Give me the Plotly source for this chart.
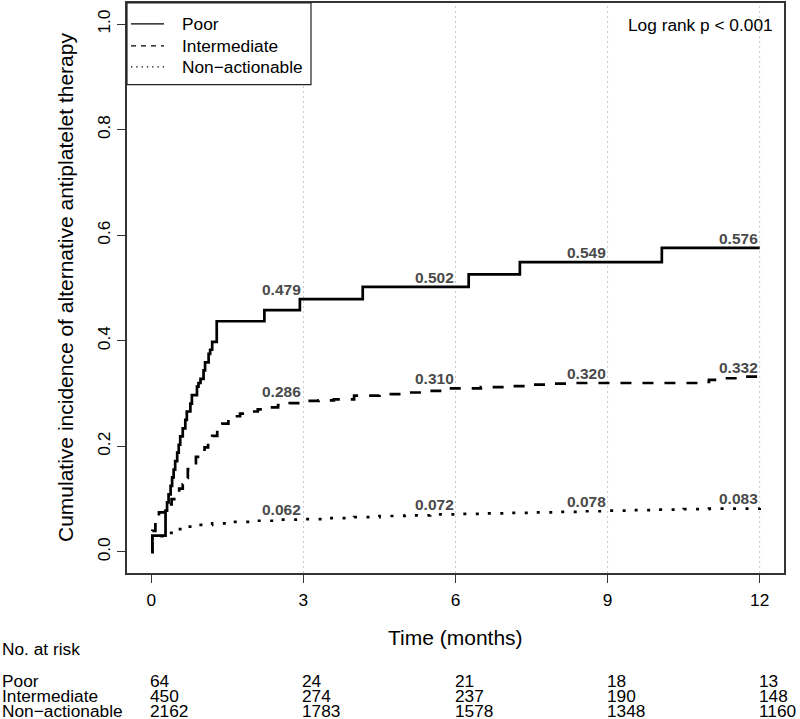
import plotly.graph_objects as go

# ---------------- data ----------------
groups = ["Poor", "Intermediate", "Non\u2212actionable"]

poor_t = [0, 0.02, 0.28, 0.31, 0.34, 0.38, 0.41, 0.44, 0.47, 0.51, 0.54, 0.57, 0.62, 0.67, 0.70,
          0.77, 0.80, 0.90, 0.93, 0.97, 1.03, 1.06, 1.13, 1.16, 1.20, 1.29, 2.23, 2.93, 4.17,
          6.26, 7.27, 10.07, 12.0]
poor_v = [0, 0.031, 0.078, 0.094, 0.109, 0.125, 0.141, 0.156, 0.172, 0.188, 0.203, 0.219, 0.234,
          0.250, 0.266, 0.281, 0.297, 0.313, 0.320, 0.328, 0.344, 0.359, 0.375, 0.383, 0.398,
          0.437, 0.458, 0.479, 0.502, 0.526, 0.549, 0.576, 0.576]

inter_t = [0, 0.02, 0.08, 0.15, 0.27, 0.33, 0.40, 0.48, 0.55, 0.62, 0.68, 0.72, 0.80, 0.88, 0.95,
           1.05, 1.12, 1.20, 1.30, 1.40, 1.52, 1.62, 1.75, 1.90, 2.10, 2.30, 2.50, 2.73, 3.00,
           3.30, 3.60, 4.00, 4.50, 5.00, 5.50, 5.80, 6.50, 7.00, 7.40, 7.90, 8.30, 9.00, 10.00,
           10.80, 11.00, 11.30, 11.60, 12.0]
inter_v = [0, 0.040, 0.058, 0.075, 0.080, 0.090, 0.100, 0.110, 0.120, 0.128, 0.140, 0.157, 0.168,
           0.180, 0.188, 0.198, 0.210, 0.220, 0.235, 0.243, 0.252, 0.257, 0.262, 0.266, 0.270,
           0.274, 0.278, 0.282, 0.286, 0.287, 0.289, 0.296, 0.299, 0.302, 0.305, 0.310, 0.312,
           0.314, 0.317, 0.319, 0.320, 0.320, 0.320, 0.322, 0.326, 0.329, 0.332, 0.332]

nonact_t = [0, 0.02, 0.10, 0.30, 0.50, 0.70, 0.90, 1.20, 1.60, 2.00, 2.50, 3.00, 3.50, 4.00, 4.50,
            5.00, 5.50, 6.00, 6.50, 7.00, 7.50, 8.00, 8.50, 9.00, 9.50, 10.00, 10.50, 11.00,
            11.50, 12.0]
nonact_v = [0, 0.025, 0.030, 0.036, 0.043, 0.048, 0.051, 0.054, 0.057, 0.059, 0.061, 0.062, 0.064,
            0.066, 0.068, 0.069, 0.071, 0.072, 0.073, 0.074, 0.075, 0.076, 0.077, 0.078, 0.079,
            0.080, 0.081, 0.082, 0.082, 0.083]

label_months = [3, 6, 9, 12]
poor_labels = [0.479, 0.502, 0.549, 0.576]
inter_labels = [0.286, 0.310, 0.320, 0.332]
nonact_labels = [0.062, 0.072, 0.078, 0.083]

risk_months = [0, 3, 6, 9, 12]
risk_poor = [64, 24, 21, 18, 13]
risk_inter = [450, 274, 237, 190, 148]
risk_nonact = [2162, 1783, 1578, 1348, 1160]

x_ticks = [0, 3, 6, 9, 12]
y_ticks = [0.0, 0.2, 0.4, 0.6, 0.8, 1.0]
y_ticktext = ["0.0", "0.2", "0.4", "0.6", "0.8", "1.0"]
grid_months = [3, 6, 9, 12]

# ---------------- layout geometry (pixels) ----------------
W, H = 800, 719
ML, MR, MT, MB = 127, 16, 1, 146
PW, PH = W - ML - MR, H - MT - MB
FONT = "Liberation Sans, Arial, Helvetica, sans-serif"


def px_x(xp):
    return (xp - ML) / PW


def px_y(yp):
    return (H - MB - yp) / PH


fig = go.Figure()

styles = [
    dict(color="black", width=2.7, dash="solid"),
    dict(color="black", width=2.7, dash="11px,11px"),
    dict(color="black", width=2.7, dash="3px,9.5px"),
]
series = [(poor_t, poor_v), (inter_t, inter_v), (nonact_t, nonact_v)]
for name, (t, v), st in zip(groups, series, styles):
    fig.add_trace(go.Scatter(x=t, y=v, mode="lines", name=name, line=st,
                             line_shape="hv", hoverinfo="skip", showlegend=False))

# vertical dotted grid lines
for m in grid_months:
    fig.add_shape(type="line", x0=m, x1=m, y0=0, y1=1, xref="x", yref="paper",
                  line=dict(color="#c8c8c8", width=1, dash="2px,3px"), layer="below")

annotations = []

# legend (drawn as box + samples + text, R style)
fig.add_shape(type="rect", xref="paper", yref="paper", x0=0, x1=px_x(311),
              y0=px_y(83), y1=1, line=dict(color="#222222", width=1.2),
              fillcolor="white", layer="above")
legend_y = [22, 44, 65]
legend_dash = ["solid", "5px,5px", "1.3px,4px"]
for name, dsh, yp in zip(groups, legend_dash, legend_y):
    fig.add_shape(type="line", xref="paper", yref="paper", x0=px_x(131), x1=px_x(164),
                  y0=px_y(yp), y1=px_y(yp),
                  line=dict(color="black", width=1.3, dash=dsh), layer="above")
    annotations.append(dict(x=px_x(180), y=px_y(yp), xref="paper", yref="paper",
                            text=name, showarrow=False, xanchor="left", yanchor="middle",
                            font=dict(family=FONT, size=17.3, color="black")))

# value labels
for labs in (poor_labels, inter_labels, nonact_labels):
    for m, val in zip(label_months, labs):
        annotations.append(dict(x=m, y=val, xref="x", yref="y", text=f"{val:.3f}",
                                showarrow=False, xanchor="right", yanchor="bottom",
                                yshift=-1,
                                font=dict(family=FONT, size=15.5, color="#4a4a4a",
                                          weight="bold")))

annotations.append(dict(x=px_x(775), y=px_y(23), xref="paper", yref="paper",
                        text="Log rank p < 0.001", showarrow=False, xanchor="right",
                        yanchor="middle", font=dict(family=FONT, size=17.3, color="black")))

# axis titles
annotations.append(dict(x=px_x(65), y=px_y(287), xref="paper", yref="paper",
                        text="Cumulative incidence of alternative antiplatelet therapy",
                        textangle=-90, showarrow=False, xanchor="center", yanchor="middle",
                        font=dict(family=FONT, size=21, color="black")))
annotations.append(dict(x=px_x(455), y=px_y(638), xref="paper", yref="paper",
                        text="Time (months)", showarrow=False, xanchor="center",
                        yanchor="middle", font=dict(family=FONT, size=21, color="black")))

# risk table
annotations.append(dict(x=px_x(0), y=px_y(649), xref="paper", yref="paper",
                        text="No. at risk", showarrow=False, xanchor="left",
                        yanchor="middle", font=dict(family=FONT, size=17.3, color="black")))
row_y = [681, 696.5, 711.5]
for name, counts, yp in zip(groups, [risk_poor, risk_inter, risk_nonact], row_y):
    annotations.append(dict(x=px_x(0), y=px_y(yp), xref="paper", yref="paper",
                            text=name, showarrow=False, xanchor="left", yanchor="middle",
                            font=dict(family=FONT, size=17.3, color="black")))
    for m, c in zip(risk_months, counts):
        annotations.append(dict(x=m, y=px_y(yp), xref="x", yref="paper", text=str(c),
                                showarrow=False, xanchor="left", yanchor="middle",
                                xshift=-3,
                                font=dict(family=FONT, size=17.3, color="black")))

fig.update_layout(
    width=W, height=H,
    margin=dict(l=ML, r=MR, t=MT, b=MB),
    paper_bgcolor="white", plot_bgcolor="white",
    font=dict(family=FONT, size=17.3, color="black"),
    showlegend=False,
    hovermode=False,
    annotations=annotations,
    xaxis=dict(range=[-0.48, 12.48], tickvals=x_ticks, ticktext=[str(v) for v in x_ticks],
               showgrid=False, zeroline=False, showline=True, mirror=True,
               linecolor="#333333", linewidth=1.5, ticks="outside", ticklen=8,
               tickcolor="#333333", tickwidth=1.2, ticklabelstandoff=2,
               tickfont=dict(family=FONT, size=17.3, color="black")),
    yaxis=dict(range=[-0.04, 1.04], tickvals=y_ticks, ticktext=y_ticktext,
               showgrid=False, zeroline=False, showline=True, mirror=True,
               linecolor="#333333", linewidth=1.5, ticks="outside", ticklen=8,
               tickcolor="#333333", tickwidth=1.2, tickangle=-90,
               tickfont=dict(family=FONT, size=17.3, color="black")),
)

fig.write_html("out.html", config={"displayModeBar": False},
               post_script="document.body.style.margin='0px';document.body.style.overflow='hidden';")
